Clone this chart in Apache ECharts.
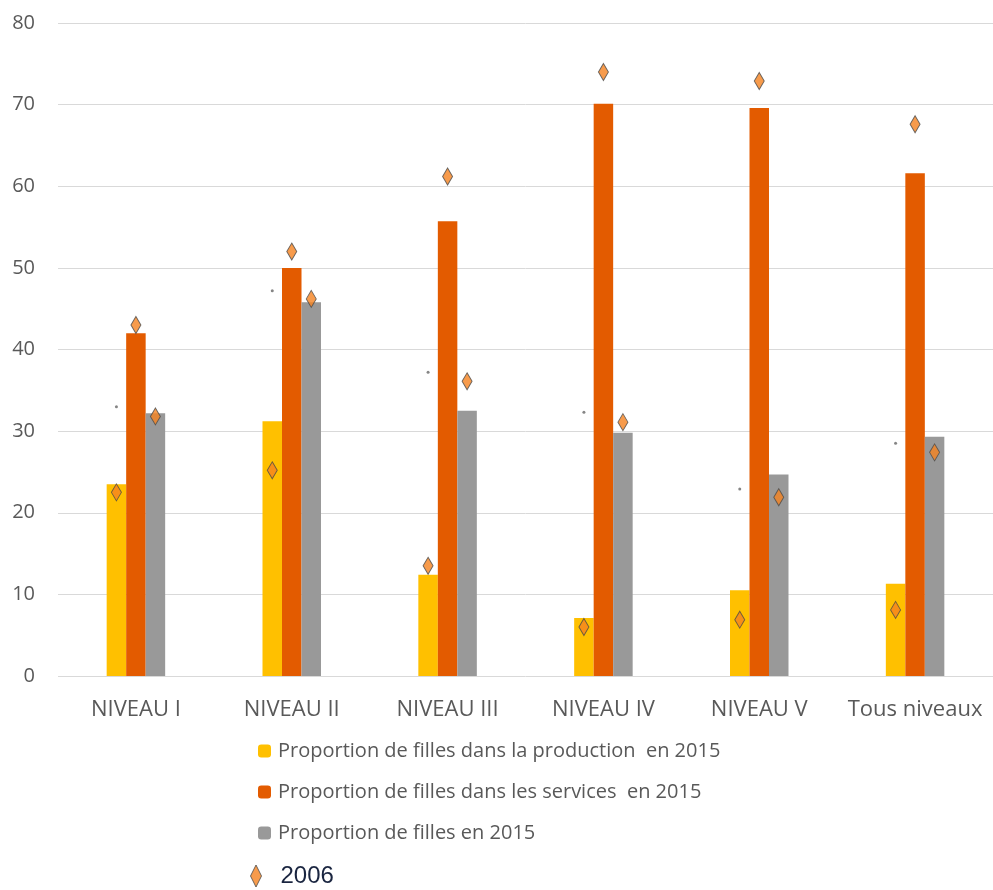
<!DOCTYPE html>
<html><head><meta charset="utf-8">
<script src="https://cdn.jsdelivr.net/npm/echarts@6/dist/echarts.min.js"></script>
<style>html,body{margin:0;padding:0;background:#fff}#c{width:993px;height:890px}</style>
</head><body><div id="c"></div>
<script>
var categories = ['NIVEAU I', 'NIVEAU II', 'NIVEAU III', 'NIVEAU IV', 'NIVEAU V', 'Tous niveaux'];
var production2015 = [23.5, 31.2, 12.4, 7.1, 10.5, 11.3];
var services2015 = [42.0, 50.0, 55.7, 70.1, 69.6, 61.6];
var filles2015 = [32.2, 45.8, 32.5, 29.8, 24.7, 29.3];
var production2006 = [22.5, 25.2, 13.5, 6.0, 6.9, 8.1];
var services2006 = [43.0, 52.0, 61.2, 74.0, 72.9, 67.6];
var filles2006 = [31.8, 46.2, 36.1, 31.1, 21.9, 27.4];
var dots2006 = [33.0, 47.2, 37.2, 32.3, 22.9, 28.5];
var yTicks = [0, 10, 20, 30, 40, 50, 60, 70, 80];

var BW = 19.5;
var diamondStyle = { color: '#F5821F', borderColor: '#4a4a4a', borderWidth: 1 };
function marker(data, off) {
  return { name: '2006', type: 'scatter', data: data, symbol: 'diamond', symbolSize: [10, 17],
    symbolOffset: [off, 0], itemStyle: diamondStyle, z: 5 };
}
var chart = echarts.init(document.getElementById('c'));
chart.setOption({
  animation: false,
  grid: { left: 58, right: 0, top: 23, bottom: 214 },
  xAxis: { type: 'category', data: categories,
    axisLine: { show: false }, axisTick: { show: false },
    axisLabel: { interval: 0, color: '#595959', fontSize: 22, margin: 23, fontFamily: 'Open Sans' } },
  yAxis: { type: 'value', min: yTicks[0], max: yTicks[yTicks.length - 1], interval: 10,
    axisLabel: { color: '#595959', fontSize: 20, margin: 23, fontFamily: 'Open Sans' },
    splitLine: { lineStyle: { color: '#d9d9d9', width: 1 } } },
  legend: [{
    orient: 'vertical', left: 258, top: 741, padding: 0, itemGap: 21, itemWidth: 13, itemHeight: 13,
    textStyle: { color: '#595959', fontSize: 20, fontFamily: 'Open Sans', padding: [0, 0, 0, 2] },
    data: [
      'Proportion de filles dans la production  en 2015',
      'Proportion de filles dans les services  en 2015',
      'Proportion de filles en 2015'
    ]
  }, {
    orient: 'vertical', left: 250, top: 864, padding: 0, itemWidth: 11, itemHeight: 22,
    textStyle: { color: '#1a2540', fontSize: 24, fontFamily: 'Liberation Sans', padding: [0, 0, 0, 14] },
    data: [{ name: '2006', icon: 'diamond', itemStyle: diamondStyle }]
  }],
  series: [
    { name: 'Proportion de filles dans la production  en 2015', type: 'bar', data: production2015,
      barWidth: BW, barGap: 0, itemStyle: { color: '#FFC000' } },
    { name: 'Proportion de filles dans les services  en 2015', type: 'bar', data: services2015,
      barWidth: BW, barGap: 0, itemStyle: { color: '#E35B00' } },
    { name: 'Proportion de filles en 2015', type: 'bar', data: filles2015,
      barWidth: BW, barGap: 0, itemStyle: { color: '#999999' } },
    marker(production2006, -BW),
    marker(services2006, 0),
    marker(filles2006, BW),
    { name: 'points', type: 'scatter', data: dots2006, symbol: 'circle', symbolSize: 3,
      symbolOffset: [-BW, 0], itemStyle: { color: '#666' }, z: 5 }
  ]
});
</script></body></html>
